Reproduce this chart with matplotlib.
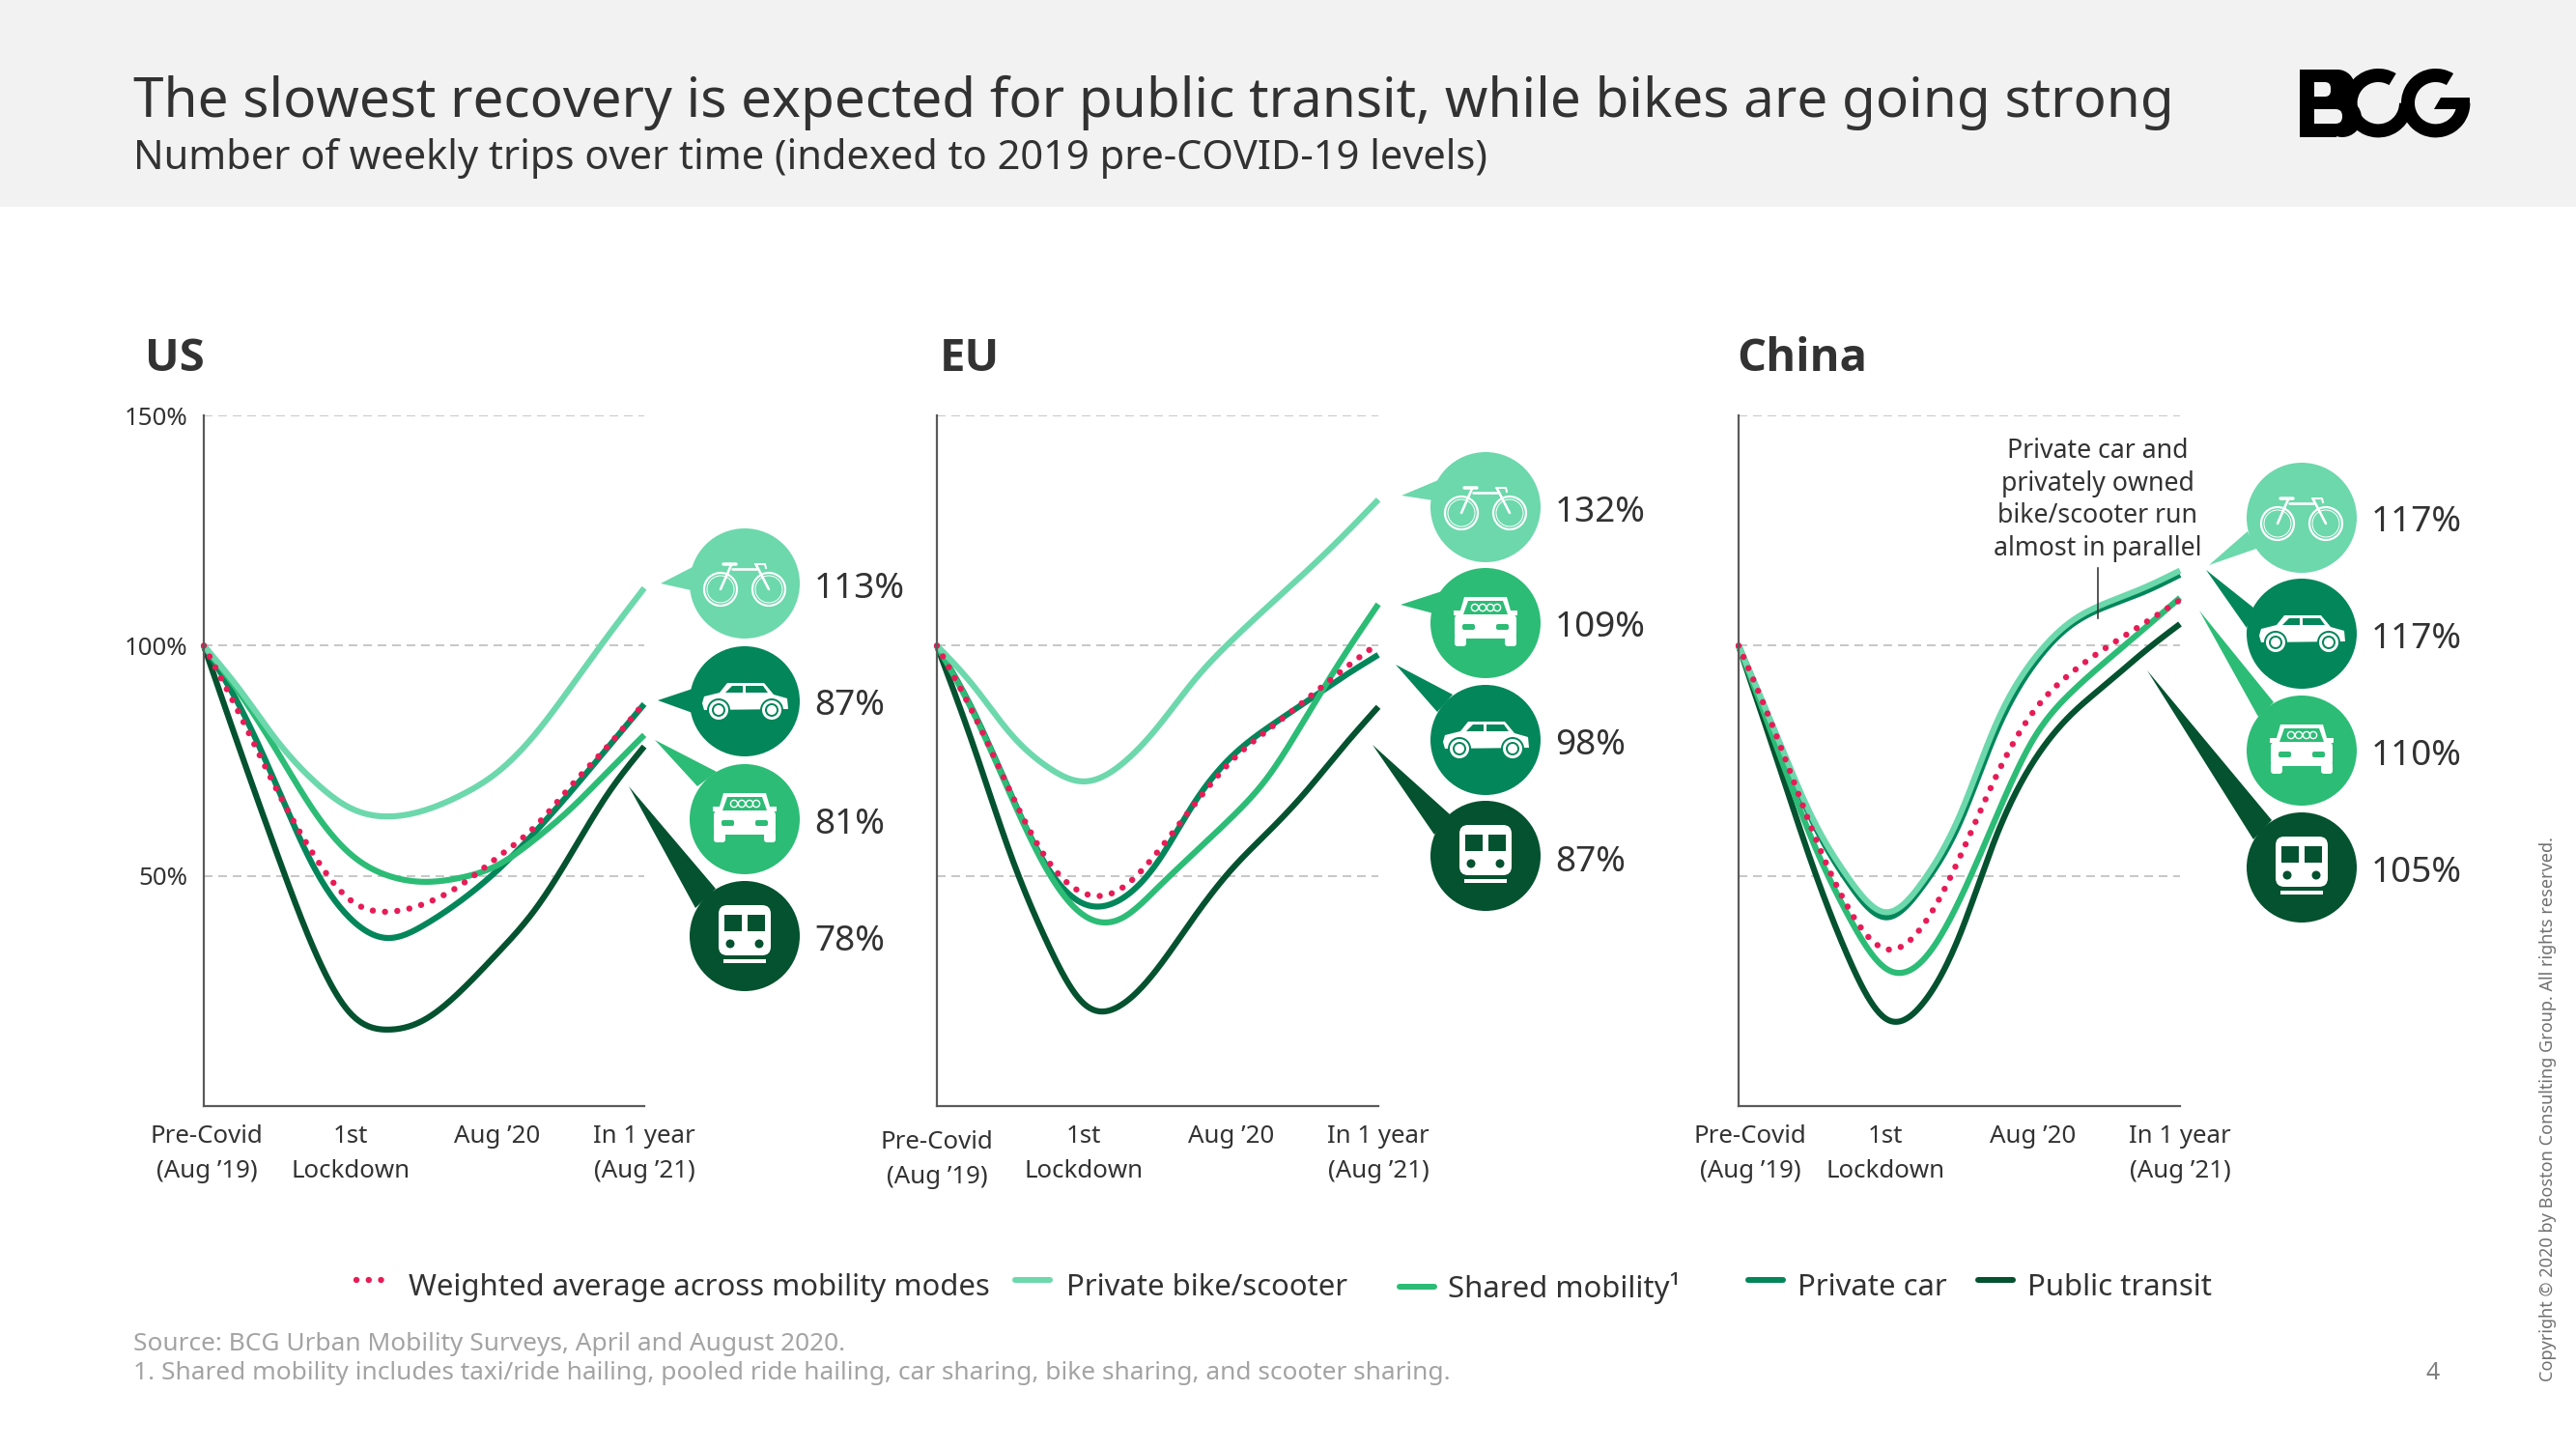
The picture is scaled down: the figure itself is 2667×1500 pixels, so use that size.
import numpy as np
import matplotlib
matplotlib.use("Agg")
import matplotlib.pyplot as plt
from matplotlib.patches import Rectangle, Circle, Polygon, Wedge, FancyBboxPatch
from matplotlib.transforms import ScaledTranslation

plt.rcParams['font.family'] = ['Noto Sans', 'DejaVu Sans']

# one value per quarter step between the four x labels
x_steps = [0, .25, .5, .75, 1, 1.25, 1.5, 1.75, 2, 2.25, 2.5, 2.75, 3]
x_labels = ['Pre-Covid\n(Aug ’19)', '1st\nLockdown', 'Aug ’20', 'In 1 year\n(Aug ’21)']

us_bike = [100, 90.2, 79.3, 70.6, 64.7, 62.9, 64.2, 67.5, 72.5, 80.5, 91, 102, 112.5]
us_shared = [100, 89.4, 77, 64.1, 54.7, 50.1, 48.7, 49.6, 52.3, 57.8, 64.6, 72.6, 80.6]
us_car = [100, 86.5, 69.3, 51.9, 40.7, 36.5, 39.3, 44.6, 51.2, 59.3, 68.3, 77.8, 87.3]
us_transit = [100, 77, 54.7, 34.1, 20.1, 16.6, 18.7, 25, 33.2, 42.4, 54.7, 67.7, 78.1]
us_avg = [100, 84.7, 68.5, 54.5, 44.7, 42.2, 43.9, 48, 54, 60.5, 69.5, 78.1, 87.6]

eu_bike = [100, 91.2, 80.9, 73.7, 70.5, 74.1, 82.3, 92.5, 101, 108.5, 115.8, 123.5, 131.7]
eu_shared = [100, 85.3, 67.6, 51.2, 41.4, 40.7, 47.4, 55, 62.6, 71.5, 84, 97, 109]
eu_car = [100, 85.6, 67.9, 51.9, 43.9, 44.9, 53, 65.9, 75.8, 82.2, 87.6, 93, 98]
eu_transit = [100, 78.1, 54.7, 35.5, 22.2, 21.9, 29.9, 41.1, 51.3, 59.5, 68, 77.6, 86.7]
eu_avg = [100, 85.1, 68.2, 53.5, 46.2, 47.2, 55.2, 65.5, 74.9, 81.7, 88, 94.5, 100.5]

cn_bike = [100, 81.2, 62.7, 49.4, 42.1, 48.7, 62.9, 83, 96.8, 105, 109.3, 112.5, 116.3]
cn_shared = [100, 78.8, 57.8, 41.1, 29.9, 31.6, 44.6, 62.7, 79.5, 89.5, 96.7, 103.5, 110.4]
cn_car = [100, 80.9, 62, 48.4, 41, 47.7, 61.3, 81.2, 95.6, 104.2, 108.5, 111.6, 115.4]
cn_transit = [100, 76.3, 52.5, 32, 19, 22.2, 36.9, 58.5, 74.6, 84.7, 91.7, 98.5, 104.7]
cn_avg = [100, 81, 60, 42.8, 34.1, 39.1, 53.8, 71.6, 85.5, 93.8, 99.6, 104.7, 109.9]

us_labels = ['113%', '87%', '81%', '78%']
eu_labels = ['132%', '109%', '98%', '87%']
cn_labels = ['117%', '117%', '110%', '105%']

LIGHT = '#6CD8AC'
MID = '#2CBC76'
CAR = '#03865A'
DARK = '#04522F'
RED = '#E71C57'
TEXT = '#323232'

PX = 72 / 200  # points per output pixel


def smooth(xs, ys, n=24):
    # natural cubic spline through the read points, only for drawing the curve
    xs = np.asarray(xs, float)
    ys = np.asarray(ys, float)
    h = np.diff(xs)
    m = len(xs)
    A = np.zeros((m, m))
    r = np.zeros(m)
    A[0, 0] = A[-1, -1] = 1
    for i in range(1, m - 1):
        A[i, i - 1] = h[i - 1]
        A[i, i] = 2 * (h[i - 1] + h[i])
        A[i, i + 1] = h[i]
        r[i] = 6 * ((ys[i + 1] - ys[i]) / h[i] - (ys[i] - ys[i - 1]) / h[i - 1])
    k = np.linalg.solve(A, r)
    fine_x = np.linspace(xs[0], xs[-1], n * (m - 1) + 1)
    j = np.clip(np.searchsorted(xs, fine_x) - 1, 0, m - 2)
    a = (xs[j + 1] - fine_x) / h[j]
    b = (fine_x - xs[j]) / h[j]
    fine_y = a * ys[j] + b * ys[j + 1] + ((a ** 3 - a) * k[j] + (b ** 3 - b) * k[j + 1]) * h[j] ** 2 / 6
    return fine_x, fine_y


fig = plt.figure(figsize=(13.335, 7.5), dpi=200)
over = fig.add_axes([0, 0, 1, 1], zorder=5)
over.set_xlim(0, 2667)
over.set_ylim(1500, 0)
over.axis('off')
over.patch.set_alpha(0)


def panel(left, right, transit, car, shared, bike, avg, show_y):
    ax = fig.add_axes([left / 2667, 1 - 1145 / 1500, (right - left) / 2667, 715 / 1500])
    ax.set_xlim(0, 3)
    ax.set_ylim(0, 150)
    for s in ['top', 'right']:
        ax.spines[s].set_visible(False)
    for s in ['left', 'bottom']:
        ax.spines[s].set_color('#5a5a5a')
        ax.spines[s].set_linewidth(2.2 * PX)
    ax.set_yticks([50, 100, 150])
    ax.set_yticklabels(['50%', '100%', '150%'] if show_y else [])
    ax.set_xticks([0, 1, 2, 3])
    ax.set_xticklabels(x_labels, linespacing=1.55)
    ax.tick_params(length=0, labelsize=9.3, labelcolor=TEXT)
    ax.tick_params(axis='y', pad=6)
    ax.tick_params(axis='x', pad=7)
    ax.grid(axis='y', color='#c8c8c8', lw=2 * PX, dashes=(4.5, 3))
    ax.set_axisbelow(True)
    for y, c in [(transit, DARK), (car, CAR), (shared, MID), (bike, LIGHT)]:
        ax.plot(*smooth(x_steps, y), color=c, lw=6.2 * PX, solid_capstyle='butt', clip_on=False)
    ax.plot(*smooth(x_steps, avg), color=RED, lw=6.4 * PX, dash_capstyle='round',
            linestyle=(0, (0.01, 1.98)), clip_on=False)
    return ax


ax_us = panel(211, 667, us_transit, us_car, us_shared, us_bike, us_avg, True)
ax_eu = panel(970, 1427, eu_transit, eu_car, eu_shared, eu_bike, eu_avg, False)
ax_cn = panel(1800, 2257, cn_transit, cn_car, cn_shared, cn_bike, cn_avg, False)

# a couple of x labels sit off their tick in the original
lab = ax_us.get_xticklabels()[0]
lab.set_transform(lab.get_transform() + ScaledTranslation(3 / 200, 0, fig.dpi_scale_trans))
lab = ax_eu.get_xticklabels()[0]
lab.set_transform(lab.get_transform() + ScaledTranslation(0, -6 / 200, fig.dpi_scale_trans))
lab = ax_cn.get_xticklabels()[0]
lab.set_transform(lab.get_transform() + ScaledTranslation(12 / 200, 0, fig.dpi_scale_trans))

# header
over.add_patch(Rectangle((0, 0), 2667, 214, color='#F2F2F2', lw=0))
over.text(138, 106, 'The slowest recovery is expected for public transit, while bikes are going strong',
          fontsize=20.4, color=TEXT, va='center')
over.text(138, 164, 'Number of weekly trips over time (indexed to 2019 pre-COVID-19 levels)',
          fontsize=15, color=TEXT, va='center')


def wedge(cx, cy, r, w, a1, a2, color='black'):
    # angles as seen on screen, y axis of the overlay runs downward
    over.add_patch(Wedge((cx, cy), r, -a2, -a1, width=w, color=color, lw=0))


def logo():
    bg = '#F2F2F2'
    over.add_patch(Rectangle((2381, 72), 38, 70, color='black', lw=0))
    over.add_patch(Circle((2420, 90), 18, color='black', lw=0))
    over.add_patch(Circle((2425, 122), 20, color='black', lw=0))
    over.add_patch(FancyBboxPatch((2396, 85), 17, 15, boxstyle='round,pad=0,rounding_size=6', color=bg, lw=0))
    over.add_patch(FancyBboxPatch((2396, 113), 29, 15, boxstyle='round,pad=0,rounding_size=7', color=bg, lw=0))
    over.add_patch(Rectangle((2396, 85), 8, 15, color=bg, lw=0))
    over.add_patch(Rectangle((2396, 113), 10, 15, color=bg, lw=0))
    wedge(2462.3, 106.7, 35.7, 14, 59, 360)
    wedge(2521.7, 106.7, 35.7, 14, 59, 360)
    over.add_patch(Polygon([(2527, 101), (2557, 101), (2557, 113), (2520, 113)], color='black', lw=0))


logo()


def icon_bike(cx, cy, c):
    for dx in (-25, 25):
        over.add_patch(Circle((cx + dx, cy + 6), 17, fill=False, ec='white', lw=2.2 * PX))
        over.add_patch(Circle((cx + dx, cy + 6), 14, fill=False, ec='white', lw=1 * PX))
    for seg in [((-25, 6), (-14, -19)), ((-13, -15), (12, -15)), ((12, -19), (25, 6))]:
        over.plot([cx + seg[0][0], cx + seg[1][0]], [cy + seg[0][1], cy + seg[1][1]],
                  color='white', lw=2.6 * PX, solid_capstyle='round')
    over.plot([cx - 22, cx - 9], [cy - 20, cy - 20], color='white', lw=3.5 * PX, solid_capstyle='round')
    over.plot([cx + 11, cx + 21, cx + 22], [cy - 20, cy - 20, cy - 16], color='white', lw=2 * PX)


def icon_car_side(cx, cy, c):
    body = [(-44, 2), (-42, -5), (-26, -9), (-18, -19), (20, -19), (30, -7), (44, -3), (45, 8), (-42, 9)]
    over.add_patch(Polygon([(cx + a, cy + b) for a, b in body], color='white', lw=0))
    for w in ([(-20, -9), (-13, -16), (-2, -16), (-2, -9)], [(1, -16), (19, -16), (24, -9), (1, -9)]):
        over.add_patch(Polygon([(cx + a, cy + b) for a, b in w], color=c, lw=0))
    for dx in (-27, 28):
        for r, col in [(12, c), (10, 'white'), (7, c), (5, 'white')]:
            over.add_patch(Circle((cx + dx, cy + 9), r, color=col, lw=0))


def icon_car_front(cx, cy, c):
    over.add_patch(Polygon([(cx - 22, cy - 27), (cx + 22, cy - 27), (cx + 28, cy - 6), (cx - 28, cy - 6)],
                           color='white', lw=0))
    over.add_patch(FancyBboxPatch((cx - 32, cy - 9), 64, 25, boxstyle='round,pad=0,rounding_size=5',
                                  color='white', lw=0))
    for dx in (-32, 20):
        over.add_patch(FancyBboxPatch((cx + dx, cy + 12), 12, 12, boxstyle='round,pad=0,rounding_size=3',
                                      color='white', lw=0))
        over.add_patch(FancyBboxPatch((cx + (-24 if dx < 0 else 11), cy + 1), 13, 6,
                                      boxstyle='round,pad=0,rounding_size=2', color=c, lw=0))
    over.add_patch(Rectangle((cx - 33, cy - 13), 66, 5, color='white', lw=0))
    over.add_patch(Polygon([(cx - 18, cy - 23), (cx + 18, cy - 23), (cx + 23, cy - 9), (cx - 23, cy - 9)],
                           color=c, lw=0))
    for dx in (-11, -3, 5, 12):
        over.add_patch(Circle((cx + dx, cy - 16), 3.6, fill=False, ec='white', lw=1.4 * PX))


def icon_train(cx, cy, c):
    over.add_patch(FancyBboxPatch((cx - 27, cy - 32), 54, 52, boxstyle='round,pad=0,rounding_size=9',
                                  color='white', lw=0))
    for dx in (-21, 3):
        over.add_patch(Rectangle((cx + dx, cy - 22), 18, 17, color=c, lw=0))
    for dx in (-15, 15):
        over.add_patch(Circle((cx + dx, cy + 8), 4.5, color=c, lw=0))
    over.add_patch(Rectangle((cx - 22, cy + 24), 44, 4, color='white', lw=0))


def bubble(cx, cy, c, tail, icon, label, lx, ly):
    over.add_patch(Polygon(tail, color=c, lw=0))
    over.add_patch(Circle((cx, cy), 57, color=c, lw=0))
    icon(cx, cy, c)
    over.text(lx - 1, ly + 4, label, fontsize=13.3, color=TEXT, va='center')


# US bubbles
bubble(771, 604, LIGHT, [(684, 604), (717, 587), (720, 612)], icon_bike, us_labels[0], 844, 606)
bubble(771, 726, CAR, [(681, 725), (717, 713), (717, 738)], icon_car_side, us_labels[1], 844, 727)
bubble(771, 848, MID, [(678, 766), (742, 799), (722, 814)], icon_car_front, us_labels[2], 844, 850)
bubble(771, 969, DARK, [(651, 814), (741, 920), (720, 940)], icon_train, us_labels[3], 844, 971)

# EU bubbles
bubble(1538, 525, LIGHT, [(1451, 513), (1489, 497), (1484, 518)], icon_bike, eu_labels[0], 1611, 527)
bubble(1538, 645, MID, [(1450, 626), (1493, 612), (1484, 635)], icon_car_front, eu_labels[1], 1611, 646)
bubble(1538, 766, CAR, [(1445, 688), (1504, 719), (1488, 737)], icon_car_side, eu_labels[2], 1611, 768)
bubble(1538, 886, DARK, [(1421, 771), (1501, 843), (1485, 864)], icon_train, eu_labels[3], 1611, 889)

# China bubbles
bubble(2383, 536, LIGHT, [(2287, 585), (2327, 550), (2336, 568)], icon_bike, cn_labels[0], 2456, 537)
bubble(2383, 656, CAR, [(2284, 590), (2333, 629), (2326, 650)], icon_car_side, cn_labels[1], 2456, 658)
bubble(2383, 777, MID, [(2277, 632), (2354, 727), (2338, 742)], icon_car_front, cn_labels[2], 2456, 779)
bubble(2383, 898, DARK, [(2223, 694), (2352, 849), (2333, 869)], icon_train, cn_labels[3], 2456, 900)

# panel titles
for x, t in [(150, 'US'), (973, 'EU'), (1798, 'China')]:
    over.text(x, 372, t, fontsize=17, fontfamily='Open Sans', fontweight='bold', color=TEXT, va='center')

# note on the China panel
note = ['Private car and', 'privately owned', 'bike/scooter run', 'almost in parallel']
for y, t in zip([467, 501, 534, 568], note):
    over.text(2172, y, t, fontsize=9.6, color=TEXT, ha='center', va='center')
over.plot([2172, 2172], [588, 640], color=TEXT, lw=1.6 * PX)

# legend
leg_y = [1325, 1325, 1332, 1325, 1325]
leg_x = [369, 1051, 1449, 1810, 2048]
leg_text = ['Weighted average across mobility modes', 'Private bike/scooter', 'Shared mobility¹',
            'Private car', 'Public transit']
leg_text_x = [423, 1104, 1499, 1861, 2099]
leg_col = [RED, LIGHT, MID, CAR, DARK]
for i in range(5):
    if i == 0:
        over.plot([leg_x[i], leg_x[i] + 30], [leg_y[i], leg_y[i]], color=leg_col[i], lw=6.4 * PX,
                  dash_capstyle='round', linestyle=(0, (0.01, 1.98)))
    else:
        over.plot([leg_x[i], leg_x[i] + 36], [leg_y[i], leg_y[i]], color=leg_col[i], lw=6 * PX,
                  solid_capstyle='round')
    over.text(leg_text_x[i], 1333, leg_text[i], fontsize=11.2, color=TEXT, va='center')

# footer
foot = '#A3A3A3'
over.text(138, 1391, 'Source: BCG Urban Mobility Surveys, April and August 2020.', fontsize=9.45, color=foot, va='center')
over.text(138, 1421, '1. Shared mobility includes taxi/ride hailing, pooled ride hailing, car sharing, bike sharing, and scooter sharing.',
          fontsize=9.45, color=foot, va='center')
over.text(2519, 1421, '4', fontsize=9, color='#808080', ha='center', va='center')
over.text(2638, 1148, 'Copyright © 2020 by Boston Consulting Group. All rights reserved.', fontsize=6.5,
          color='#707070', rotation=90, ha='center', va='center')

fig.savefig('out.png', dpi=200)
